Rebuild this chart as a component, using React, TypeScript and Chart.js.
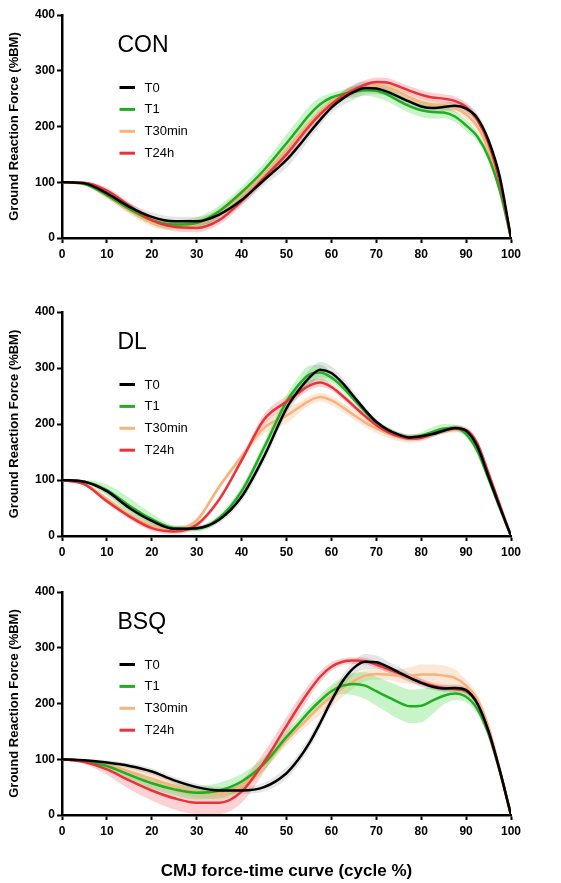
import React, { useEffect, useRef } from 'react';
import { Chart, registerables } from 'chart.js';

Chart.register(...registerables);

const FONT = '"Liberation Sans", Arial, Helvetica, sans-serif';
Chart.defaults.font.family = FONT;

// x grid (cycle %)
const X = [0, 5, 10, 15, 20, 25, 30, 35, 40, 45, 50, 52.5, 55, 57.5, 60, 62.5, 65, 67.5, 70, 72.5, 75, 77.5, 80, 82.5, 85, 87.5, 90, 92.5, 95, 97.5, 100];
const X_TICKS = [0, 10, 20, 30, 40, 50, 60, 70, 80, 90, 100];
const Y_TICKS = [0, 100, 200, 300, 400];
const SERIES = ['T0', 'T1', 'T30min', 'T24h'];

// ---- CON ----
const CON_T0 = [100, 98, 80, 56, 38, 30, 30, 42, 68, 104, 140, 163, 188, 212, 234, 250, 262, 269, 268, 262, 253, 244, 236, 233, 235, 237, 232, 215, 175, 110, 0];
const CON_T1 = [100, 97, 77, 52, 32, 24, 27, 48, 82, 122, 170, 195, 220, 240, 252, 258, 262, 265, 264, 257, 246, 236, 229, 226, 225, 218, 202, 182, 145, 85, 0];
const CON_T30 = [100, 97, 75, 49, 28, 22, 25, 46, 78, 114, 158, 182, 205, 226, 243, 255, 264, 270, 274, 270, 262, 252, 244, 240, 238, 233, 222, 200, 158, 95, 0];
const CON_T24 = [100, 99, 85, 58, 32, 20, 18, 32, 66, 108, 150, 175, 200, 222, 240, 255, 266, 275, 280, 279, 272, 264, 257, 252, 250, 246, 235, 212, 170, 100, 0];
const CON_T0_SD = [0, 2, 5, 6, 8, 8, 8, 8, 8, 10, 14, 14, 12, 10, 10, 12, 14, 12, 10, 8, 8, 8, 8, 8, 8, 8, 8, 8, 8, 6, 2];
const CON_T1_SD = [0, 2, 5, 6, 8, 8, 10, 10, 10, 12, 16, 16, 16, 12, 8, 8, 10, 10, 12, 12, 12, 12, 12, 12, 10, 10, 10, 8, 8, 6, 2];
const CON_T30_SD = [0, 2, 5, 6, 8, 8, 8, 8, 8, 8, 8, 8, 8, 8, 8, 8, 8, 8, 8, 8, 8, 8, 8, 8, 8, 8, 8, 8, 8, 6, 2];
const CON_T24_SD = [0, 2, 5, 6, 8, 8, 8, 8, 8, 8, 8, 8, 8, 8, 8, 8, 8, 8, 8, 8, 8, 8, 8, 8, 8, 8, 8, 8, 8, 6, 2];

// ---- DL ----
const DL_T0 = [100, 97, 80, 50, 27, 13, 14, 29, 70, 142, 228, 258, 282, 297, 291, 273, 249, 225, 204, 190, 181, 176, 178, 182, 188, 193, 188, 160, 106, 52, 0];
const DL_T1 = [100, 97, 82, 54, 30, 14, 13, 32, 80, 158, 240, 268, 288, 292, 283, 266, 244, 222, 202, 189, 180, 176, 179, 186, 192, 193, 182, 152, 102, 50, 0];
const DL_T30 = [100, 93, 66, 38, 18, 12, 28, 88, 142, 193, 215, 228, 241, 248, 242, 230, 216, 203, 192, 183, 177, 174, 176, 182, 188, 190, 186, 160, 105, 52, 0];
const DL_T24 = [100, 92, 62, 35, 14, 8, 20, 65, 135, 208, 240, 255, 268, 274, 266, 250, 232, 214, 198, 186, 178, 174, 175, 182, 188, 192, 189, 165, 112, 56, 0];
const DL_T0_SD = [0, 2, 5, 6, 6, 5, 5, 6, 8, 10, 10, 12, 14, 14, 12, 10, 8, 6, 6, 5, 5, 5, 5, 5, 5, 5, 5, 6, 6, 5, 2];
const DL_T1_SD = [0, 3, 10, 14, 10, 5, 5, 6, 8, 10, 12, 14, 16, 14, 10, 8, 6, 5, 5, 5, 5, 5, 6, 8, 8, 6, 6, 6, 6, 5, 2];
const DL_T30_SD = [0, 2, 4, 5, 5, 5, 5, 5, 6, 10, 14, 10, 8, 8, 8, 8, 8, 8, 8, 8, 8, 8, 6, 5, 5, 5, 5, 6, 6, 5, 2];
const DL_T24_SD = [0, 2, 4, 5, 5, 5, 5, 5, 6, 10, 10, 8, 8, 8, 6, 6, 6, 5, 5, 5, 5, 5, 5, 5, 5, 5, 5, 6, 6, 5, 2];

// ---- BSQ ----
const BSQ_T0 = [100, 98, 94, 88, 78, 62, 50, 44, 44, 50, 75, 98, 128, 165, 205, 240, 264, 275, 274, 266, 256, 246, 237, 230, 227, 228, 224, 200, 150, 80, 0];
const BSQ_T1 = [100, 97, 88, 72, 57, 46, 40, 44, 60, 92, 140, 162, 185, 205, 222, 232, 235, 232, 222, 212, 202, 195, 196, 205, 214, 218, 212, 190, 145, 78, 0];
const BSQ_T30 = [100, 97, 90, 78, 65, 52, 42, 38, 52, 90, 135, 155, 175, 195, 212, 228, 240, 250, 253, 252, 250, 250, 252, 252, 250, 246, 232, 208, 158, 82, 0];
const BSQ_T24 = [100, 95, 82, 62, 44, 30, 22, 22, 42, 95, 160, 192, 222, 248, 266, 275, 277, 276, 270, 262, 254, 246, 238, 232, 228, 226, 222, 200, 150, 80, 0];
const BSQ_T0_SD = [0, 2, 4, 5, 6, 6, 6, 6, 6, 8, 10, 10, 10, 10, 10, 10, 12, 14, 12, 10, 10, 8, 8, 6, 6, 6, 6, 6, 6, 5, 2];
const BSQ_T1_SD = [0, 2, 5, 8, 10, 10, 12, 14, 14, 12, 10, 10, 10, 10, 12, 15, 20, 24, 26, 28, 30, 30, 30, 24, 16, 12, 10, 8, 6, 5, 2];
const BSQ_T30_SD = [0, 2, 4, 8, 10, 10, 10, 10, 10, 10, 10, 10, 12, 15, 18, 16, 12, 10, 10, 10, 12, 15, 18, 18, 18, 15, 10, 8, 6, 5, 2];
const BSQ_T24_SD = [0, 3, 10, 16, 18, 20, 20, 20, 20, 18, 16, 15, 12, 10, 8, 6, 6, 6, 6, 6, 6, 6, 6, 6, 6, 6, 6, 6, 6, 5, 2];

const LINE_COLORS = ['#000000', '#1fae1f', '#f8b27c', '#e8333b'];
const BAND_COLORS = ['rgba(0,0,0,0.10)', 'rgba(60,215,60,0.28)', 'rgba(250,175,120,0.30)', 'rgba(238,70,80,0.25)'];

const PANELS = [
  { label: 'CON', means: [CON_T0, CON_T1, CON_T30, CON_T24], sds: [CON_T0_SD, CON_T1_SD, CON_T30_SD, CON_T24_SD], top: 0, height: 280, padTop: 15, xAxisH: 42, xTitle: false },
  { label: 'DL', means: [DL_T0, DL_T1, DL_T30, DL_T24], sds: [DL_T0_SD, DL_T1_SD, DL_T30_SD, DL_T24_SD], top: 280, height: 280, padTop: 32, xAxisH: 24, xTitle: false },
  { label: 'BSQ', means: [BSQ_T0, BSQ_T1, BSQ_T30, BSQ_T24], sds: [BSQ_T0_SD, BSQ_T1_SD, BSQ_T30_SD, BSQ_T24_SD], top: 560, height: 323, padTop: 32, xAxisH: 68, xTitle: true },
];

type PanelProps = { cfg: typeof PANELS[number] };

function Panel({ cfg }: PanelProps) {
  const ref = useRef<HTMLCanvasElement | null>(null);
  useEffect(() => {
    if (!ref.current) return;
    const datasets: any[] = [];
    cfg.means.forEach((m, i) => {
      const sd = cfg.sds[i];
      datasets.push({
        label: SERIES[i] + ' upper',
        data: X.map((x, k) => ({ x, y: m[k] + sd[k] })),
        borderWidth: 0,
        pointRadius: 0,
        backgroundColor: BAND_COLORS[i],
        fill: '+1',
        cubicInterpolationMode: 'monotone',
        order: 20 + i,
      });
      datasets.push({
        label: SERIES[i] + ' lower',
        data: X.map((x, k) => ({ x, y: Math.max(0, m[k] - sd[k]) })),
        borderWidth: 0,
        pointRadius: 0,
        backgroundColor: BAND_COLORS[i],
        fill: false,
        cubicInterpolationMode: 'monotone',
        order: 20 + i,
      });
    });
    const lineOrder = [0, 2, 3, 1];
    cfg.means.forEach((m, i) => {
      datasets.push({
        label: SERIES[i],
        data: X.map((x, k) => ({ x, y: m[k] })),
        borderColor: LINE_COLORS[i],
        borderWidth: 2.5,
        pointRadius: 0,
        fill: false,
        cubicInterpolationMode: 'monotone',
        order: lineOrder[i],
      });
    });

    const overlay = {
      id: 'panelOverlay',
      afterDatasetsDraw(chart: any) {
        const { ctx, chartArea } = chart;
        ctx.save();
        ctx.fillStyle = '#000';
        ctx.font = '23px ' + FONT;
        ctx.textBaseline = 'alphabetic';
        ctx.textAlign = 'left';
        ctx.fillText(cfg.label, chartArea.left + 55.5, chartArea.top + 36.5);
        ctx.font = '13px ' + FONT;
        ctx.textBaseline = 'middle';
        SERIES.forEach((s, i) => {
          const y = chartArea.top + 72.5 + i * 21.9;
          ctx.strokeStyle = LINE_COLORS[i];
          ctx.lineWidth = 3;
          ctx.beginPath();
          ctx.moveTo(chartArea.left + 57.5, y);
          ctx.lineTo(chartArea.left + 73, y);
          ctx.stroke();
          ctx.fillStyle = '#000';
          ctx.fillText(s, chartArea.left + 82.5, y + 0.5);
        });
        ctx.restore();
      },
    };

    const tickFont = { family: FONT, size: 12, weight: 'bold' as const };
    const chart = new Chart(ref.current, {
      type: 'line',
      data: { datasets },
      plugins: [overlay],
      options: {
        responsive: false,
        animation: false,
        devicePixelRatio: 1,
        layout: { padding: { top: cfg.padTop, right: 50, bottom: 0, left: 0 } },
        plugins: { legend: { display: false }, tooltip: { enabled: false }, title: { display: false } },
        elements: { line: { tension: 0 } },
        scales: {
          x: {
            type: 'linear',
            min: 0,
            max: 100,
            afterBuildTicks: (scale: any) => { scale.ticks = X_TICKS.map((v) => ({ value: v })); },
            ticks: { font: tickFont, color: '#000', padding: 4, maxRotation: 0, autoSkip: false },
            grid: { display: true, drawOnChartArea: false, drawTicks: true, tickLength: 5, tickWidth: 2, tickColor: '#000' },
            border: { display: true, color: '#000', width: 2.5 },
            title: { display: cfg.xTitle, text: 'CMJ force-time curve (cycle %)', color: '#000', font: { family: FONT, size: 17, weight: 'bold' }, padding: { top: 0, bottom: 1 } },
            afterFit: (scale: any) => { scale.height = cfg.xAxisH; },
          },
          y: {
            type: 'linear',
            min: 0,
            max: 400,
            afterBuildTicks: (scale: any) => { scale.ticks = Y_TICKS.map((v) => ({ value: v })); },
            ticks: { font: tickFont, color: '#000', padding: 2 },
            grid: { display: true, drawOnChartArea: false, drawTicks: true, tickLength: 5, tickWidth: 2, tickColor: '#000' },
            border: { display: true, color: '#000', width: 2.5 },
            title: { display: true, text: 'Ground Reaction Force (%BM)', color: '#000', font: { family: FONT, size: 13, weight: 'bold' }, padding: { top: 7, bottom: 0 } },
            afterFit: (scale: any) => { scale.width = 62; },
          },
        },
      } as any,
    });
    return () => chart.destroy();
  }, [cfg]);
  return (
    <canvas
      ref={ref}
      width={561}
      height={cfg.height}
      style={{ position: 'absolute', left: 0, top: cfg.top, width: 561, height: cfg.height, display: 'block' }}
    />
  );
}

export default function App() {
  return (
    <div style={{ position: 'absolute', left: 0, top: 0, width: 561, height: 883, background: '#fff' }}>
      {PANELS.map((p) => (
        <Panel key={p.label} cfg={p} />
      ))}
    </div>
  );
}
